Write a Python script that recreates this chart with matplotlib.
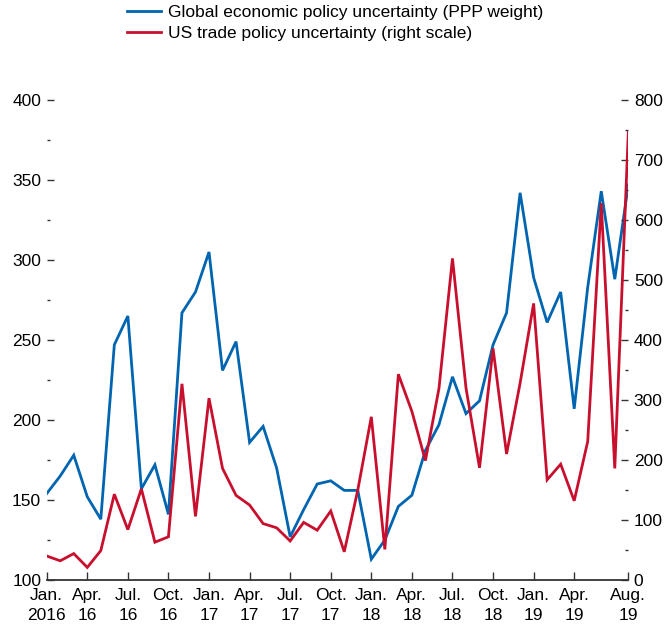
import matplotlib
matplotlib.use("Agg")
import matplotlib.pyplot as plt
import numpy as np
from matplotlib.ticker import MultipleLocator

plt.rcParams['font.family'] = ['Liberation Sans', 'DejaVu Sans']

# monthly, Jan 2016 - Aug 2019
months = ['Jan. 2016', 'Feb. 16', 'Mar. 16', 'Apr. 16', 'May 16', 'Jun. 16', 'Jul. 16', 'Aug. 16',
          'Sep. 16', 'Oct. 16', 'Nov. 16', 'Dec. 16', 'Jan. 17', 'Feb. 17', 'Mar. 17', 'Apr. 17',
          'May 17', 'Jun. 17', 'Jul. 17', 'Aug. 17', 'Sep. 17', 'Oct. 17', 'Nov. 17', 'Dec. 17',
          'Jan. 18', 'Feb. 18', 'Mar. 18', 'Apr. 18', 'May 18', 'Jun. 18', 'Jul. 18', 'Aug. 18',
          'Sep. 18', 'Oct. 18', 'Nov. 18', 'Dec. 18', 'Jan. 19', 'Feb. 19', 'Mar. 19', 'Apr. 19',
          'May 19', 'Jun. 19', 'Jul. 19', 'Aug. 19']

global_epu = [154, 165, 178, 152, 138, 247, 265, 157, 172, 141,
              267, 280, 305, 231, 249, 186, 196, 170, 127, 144,
              160, 162, 156, 156, 113, 125, 146, 153, 181, 197,
              227, 204, 212, 247, 267, 342, 289, 261, 280, 207,
              283, 343, 288, 347]

us_tpu = [40, 32, 44, 21, 49, 143, 84, 152, 63, 72,
          327, 106, 303, 186, 141, 125, 94, 87, 65, 96,
          83, 115, 47, 150, 272, 51, 343, 281, 199, 319,
          536, 320, 187, 386, 210, 328, 461, 167, 193, 132,
          231, 628, 186, 746]

tick_pos = [0, 3, 6, 9, 12, 15, 18, 21, 24, 27, 30, 33, 36, 39, 43]
tick_labels = ['Jan.\n2016', 'Apr.\n16', 'Jul.\n16', 'Oct.\n16', 'Jan.\n17', 'Apr.\n17',
               'Jul.\n17', 'Oct.\n17', 'Jan.\n18', 'Apr.\n18', 'Jul.\n18', 'Oct.\n18',
               'Jan.\n19', 'Apr.\n19', 'Aug.\n19']

blue = '#0065b1'
red = '#c8102e'
tick_col = '#333333'
fs = 12.5

fig = plt.figure(figsize=(6.66, 6.31), dpi=100)
ax = fig.add_axes([46.7 / 666, 1 - 580 / 631, (628.3 - 46.7) / 666, 480 / 631])
ax2 = ax.twinx()

x = np.arange(len(months))
l1, = ax.plot(x, global_epu, color=blue, lw=2.0, solid_joinstyle='miter')
l2, = ax2.plot(x, us_tpu, color=red, lw=2.0, solid_joinstyle='miter')

ax.set_xlim(0, len(months) - 1)
ax.set_ylim(100, 400)
ax2.set_ylim(0, 800)

ax.yaxis.set_major_locator(MultipleLocator(50))
ax.yaxis.set_minor_locator(MultipleLocator(25))
ax2.yaxis.set_major_locator(MultipleLocator(100))
ax2.yaxis.set_minor_locator(MultipleLocator(50))

ax.set_xticks(tick_pos)
ax.set_xticklabels(tick_labels, linespacing=1.35)

for a in (ax, ax2):
    for s in a.spines.values():
        s.set_visible(False)
ax.spines['bottom'].set_visible(True)
ax.spines['bottom'].set_color(tick_col)
ax.spines['bottom'].set_linewidth(1.3)

ax.tick_params(axis='x', direction='in', length=5.5, width=1, color=tick_col,
               labelsize=fs, pad=6)
ax.tick_params(axis='y', which='major', direction='in', length=5, width=1,
               color=tick_col, labelsize=fs, pad=4)
ax.tick_params(axis='y', which='minor', direction='in', length=2.4, width=1, color=tick_col)
ax2.tick_params(axis='y', which='major', direction='in', length=5, width=1,
                color=tick_col, labelsize=fs, pad=4)
ax2.tick_params(axis='y', which='minor', direction='in', length=2.4, width=1, color=tick_col)

fig.legend([l1, l2], ['Global economic policy uncertainty (PPP weight)',
                      'US trade policy uncertainty (right scale)'],
           loc='upper left', bbox_to_anchor=(126.7 / 666, 1 - 5 / 631),
           frameon=False, fontsize=fs, handlelength=2.0, handletextpad=0.4,
           labelspacing=0.35, borderpad=0, borderaxespad=0)

fig.savefig('out.png', dpi=100)
